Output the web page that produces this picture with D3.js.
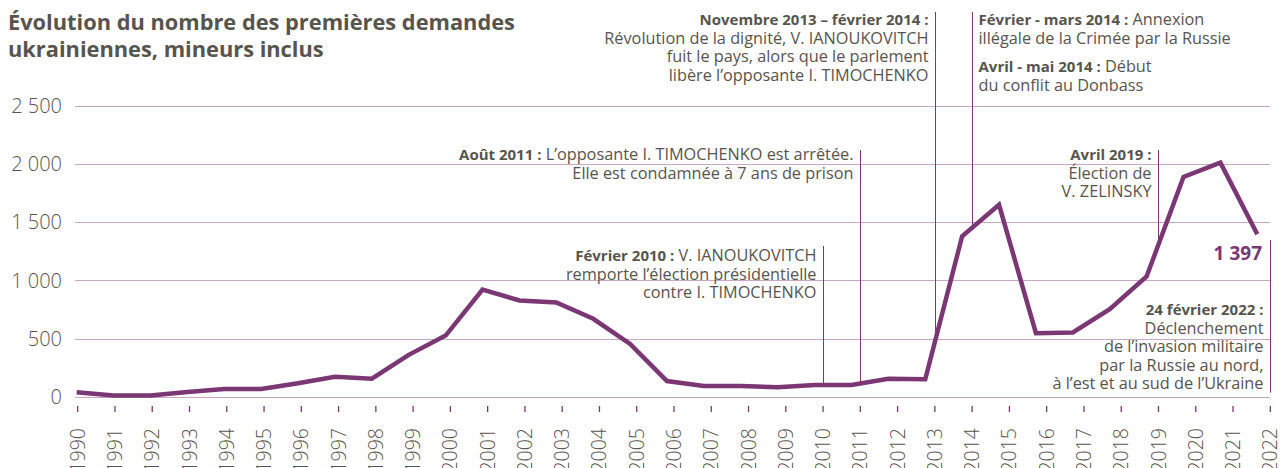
<!DOCTYPE html>
<html><head><meta charset="utf-8">
<script src="https://cdn.jsdelivr.net/npm/d3@7"></script>
<style>
html,body{margin:0;padding:0;background:#fff;}
svg{display:block;font-family:"Open Sans","Lato",sans-serif;}
</style></head>
<body><svg id="c" width="1287" height="468"></svg>
<script>
const years = d3.range(1990, 2023);
const values = [38,10,10,40,66,66,115,172,155,360,526,922,828,810,670,454,135,92,92,81,101,101,155,150,1380,1650,546,552,753,1034,1890,2013,1397];
const yTicks = [0,500,1000,1500,2000,2500];
const titleLines = ["Évolution du nombre des premières demandes","ukrainiennes, mineurs inclus"];
const lastLabel = "1 397";
// annotation years (position on the year axis) and texts [bold, regular]
const annYears = [2010, 2011, 2013, 2014, 2019, 2022];
const annTexts = [
  [["Février 2010 :"," V. IANOUKOVITCH"],["","remporte l’élection présidentielle"],["","contre I. TIMOCHENKO"]],
  [["Août 2011 :"," L’opposante I. TIMOCHENKO est arrêtée."],["","Elle est condamnée à 7 ans de prison"]],
  [["Novembre 2013 – février 2014 :",""],["","Révolution de la dignité, V. IANOUKOVITCH"],["","fuit le pays, alors que le parlement"],["","libère l’opposante I. TIMOCHENKO"]],
  [["Février - mars 2014 :"," Annexion"],["","illégale de la Crimée par la Russie"],["Avril - mai 2014 :"," Début"],["","du conflit au Donbass"]],
  [["Avril 2019 :",""],["","Élection de"],["","V. ZELINSKY"]],
  [["24 février 2022 :",""],["","Déclenchement"],["","de l’invasion militaire"],["","par la Russie au nord,"],["","à l’est et au sud de l’Ukraine"]]
];

const purple = "#7b3773", grid = "#caa8c5", txt = "#57544d";
const svg = d3.select("#c");
const x = d3.scaleLinear().domain([1990,2022]).range([76.7,1257.3]);
const xa = d3.scaleLinear().domain([1990,2022]).range([77.7,1270.3]);
const y = d3.scaleLinear().domain([0,2500]).range([396.7,106]);

// title
svg.append("text").attr("x",8).attr("y",29.5).attr("fill",txt).attr("font-weight",700).attr("font-size",21.8)
  .selectAll("tspan").data(titleLines).join("tspan").attr("x",8).attr("dy",(d,i)=>i?27.5:0).text(d=>d);

// grid
svg.append("g").selectAll("line").data(yTicks).join("line")
  .attr("x1",75).attr("x2",1270).attr("y1",d=>Math.round(y(d))+0.5).attr("y2",d=>Math.round(y(d))+0.5)
  .attr("stroke",grid).attr("stroke-width",1);
svg.append("g").selectAll("text").data(yTicks).join("text")
  .attr("x",62).attr("y",d=>y(d)).attr("dy","0.36em").attr("text-anchor","end")
  .attr("font-size",20).attr("font-weight",300).attr("fill",txt)
  .text(d=>d3.format(",")(d).replace(",", " "));

// x ticks
const xg = svg.append("g");
xg.selectAll("line").data(years).join("line")
  .attr("x1",d=>xa(d)).attr("x2",d=>xa(d)).attr("y1",406).attr("y2",412)
  .attr("stroke",purple).attr("stroke-width",1.3);
xg.selectAll("text").data(years).join("text")
  .attr("transform",d=>`translate(${xa(d)},428) rotate(-90)`)
  .attr("text-anchor","end").attr("dy","0.36em")
  .attr("font-size",19.5).attr("font-weight",300).attr("fill",txt).text(d=>d);

// annotation lines
const interp = t => {
  const yr = x.invert(xa(t));
  const i = Math.max(0, Math.min(values.length-2, Math.floor(yr-1990)));
  const f = yr-1990-i;
  return values[i] + (values[i+1]-values[i])*Math.min(1,f);
};
const annCfg = [
  {top:246, side:"left", base:261},
  {top:150, side:"left", base:160},
  {top:12, side:"left", base:25},
  {top:12, side:"right", base:25, gap:[0,0,10,0]},
  {top:150, side:"left", base:160},
  {top:240, side:"left", base:315}
];
annYears.forEach((yr,k)=>{
  const cfg = annCfg[k];
  const xx = Math.round(xa(yr))+0.5;
  const yEnd = yr===2022 ? y(0)-4 : y(interp(yr));
  svg.append("line").attr("x1",xx).attr("x2",xx).attr("y1",cfg.top).attr("y2",yEnd)
    .attr("stroke",purple).attr("stroke-width",1);
  const t = svg.append("text").attr("font-size",16.3).attr("fill",txt)
    .attr("text-anchor", cfg.side==="left" ? "end":"start");
  let yy = cfg.base;
  annTexts[k].forEach((ln,i)=>{
    if (i>0) yy += 18.5 + (cfg.gap ? cfg.gap[i] : 0);
    const tl = t.append("tspan").attr("x", cfg.side==="left" ? xx-7 : xx+6).attr("y", yy);
    if (ln[0]) tl.append("tspan").attr("font-weight",700).attr("font-size",15).text(ln[0]);
    if (ln[1]) { if(ln[0]) tl.append("tspan").attr("font-weight",400).text(ln[1]); else tl.text(ln[1]); }
  });
});

// data line
svg.append("path").datum(values)
  .attr("d", d3.line().x((d,i)=>x(years[i])).y(d=>y(d)))
  .attr("fill","none").attr("stroke",purple).attr("stroke-width",4.5).attr("stroke-linejoin","miter");

svg.append("text").attr("x",1262).attr("y",260).attr("text-anchor","end")
  .attr("font-size",19).attr("font-weight",700).attr("fill",purple).text(lastLabel);
</script></body></html>
